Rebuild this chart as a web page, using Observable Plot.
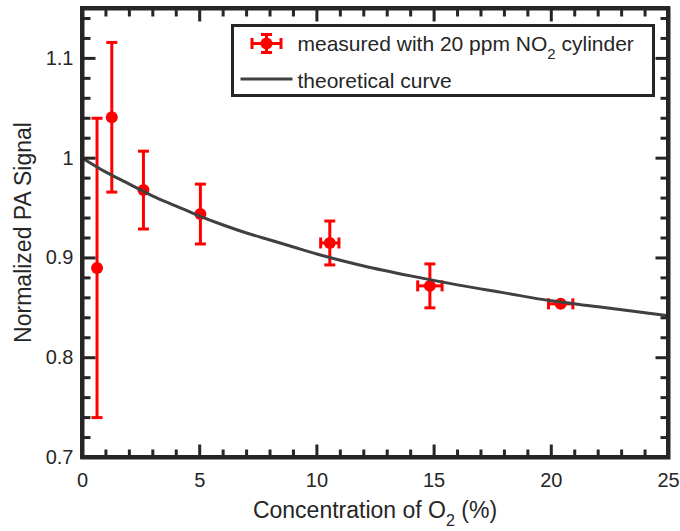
<!DOCTYPE html>
<html><head><meta charset="utf-8">
<script src="https://cdn.jsdelivr.net/npm/d3@7"></script>
<script src="https://cdn.jsdelivr.net/npm/@observablehq/plot@0.6"></script>
<style>
body{margin:0;background:#fff;overflow:hidden}
#wrap{position:relative;width:680px;height:531px}
#legend{position:absolute;left:231px;top:24px;width:424px;height:73px;box-sizing:border-box;border:3.5px solid #262626;background:#fff;
  font-family:'Liberation Sans',Arial,Helvetica,sans-serif;font-size:21px;line-height:1;color:#262626}
#legend .row{position:absolute;left:63.5px;white-space:nowrap}
#legend .sub{font-size:15px;position:relative;top:8px}
#legend svg{position:absolute;left:0;top:0}
</style>
</head><body><div id="wrap"><div id="chart"></div>
<div id="legend">
  <svg width="417" height="66"></svg>
  <div class="row" style="top:5.7px">measured with 20 ppm NO<span class="sub">2</span> cylinder</div>
  <div class="row" style="top:42.7px">theoretical curve</div>
</div></div>
<script>
// measured points
const o2Conc   = [0.62, 1.25, 2.6, 5.03, 10.55, 14.82, 20.4];
const paSignal = [0.890, 1.041, 0.968, 0.944, 0.915, 0.872, 0.854];
const yError   = [0.150, 0.075, 0.039, 0.030, 0.022, 0.022, 0.0];
const xError   = [0, 0, 0, 0, 0.39, 0.52, 0.52];
// theoretical curve
const curveX = [0, 1, 2, 3, 4, 5, 6, 7, 8, 9, 10, 12, 14, 16, 18, 20, 22, 25];
const curveY = [1.000, 0.986, 0.974, 0.962, 0.952, 0.942, 0.933, 0.925, 0.918, 0.911, 0.904, 0.892, 0.882, 0.873, 0.865, 0.857, 0.851, 0.842];
// ticks
const xMajor = [0, 5, 10, 15, 20, 25];
const yMajor = [0.7, 0.8, 0.9, 1.0, 1.1];
const yTickLabels = ["0.7", "0.8", "0.9", "1", "1.1"];
const xMinor = d3.range(0, 26, 1).filter(v => v % 5 !== 0);
const yMinor = d3.range(36, 58, 1).filter(v => v % 5 !== 0).map(v => +(v * 0.02).toFixed(2));

const W = 680, H = 531, mL = 82, mR = 12, mT = 8, mB = 74;
const RED = "#ff0000", DARK = "#262626", CURVE = "#404040";
const FONT = "'Liberation Sans', Arial, Helvetica, sans-serif";
const X0 = 0, X1 = 25, Y0 = 0.7, Y1 = 1.15;

const pts = o2Conc.map((x, i) => ({x, y: paSignal[i], ey: yError[i], ex: xError[i]}));
const curve = curveX.map((x, i) => ({x, y: curveY[i]}));
const yCaps = pts.filter(d => d.ey > 0).flatMap(d => [{x: d.x, y: d.y - d.ey}, {x: d.x, y: d.y + d.ey}]);
const xCaps = pts.filter(d => d.ex > 0).flatMap(d => [{x: d.x - d.ex, y: d.y}, {x: d.x + d.ex, y: d.y}]);

const seg = (x1, y1, x2, y2) => ({draw(ctx) { ctx.moveTo(x1, y1); ctx.lineTo(x2, y2); }});
const box = (x, y, w, h) => ({draw(ctx) { ctx.rect(x, y, w, h); }});
const hCap = seg(-5.5, 0, 5.5, 0);
const vCap = seg(0, -5.5, 0, 5.5);
const MIN = 8, MAJ = 13, TW = 3;
const tk = {fill: DARK, stroke: "none", r: 5};

const svg = Plot.plot({
  width: W, height: H,
  marginLeft: mL, marginRight: mR, marginTop: mT, marginBottom: mB,
  x: {domain: [X0, X1]},
  y: {domain: [Y0, Y1]},
  style: {fontFamily: FONT, fontSize: "20px", color: DARK, background: "#fff"},
  marks: [
    Plot.axisX(xMajor, {tickSize: 0, tickPadding: 15, label: null, fontSize: 20, fill: DARK}),
    Plot.axisY(yMajor, {tickSize: 0, tickPadding: 9, label: null, fontSize: 20, fill: DARK,
      tickFormat: d => yTickLabels[yMajor.indexOf(d)]}),
    // error bars
    Plot.ruleX(pts.filter(d => d.ey > 0), {x: "x", y1: d => d.y - d.ey, y2: d => d.y + d.ey, stroke: RED, strokeWidth: 3}),
    Plot.ruleY(pts.filter(d => d.ex > 0), {y: "y", x1: d => d.x - d.ex, x2: d => d.x + d.ex, stroke: RED, strokeWidth: 3}),
    Plot.dot(yCaps, {x: "x", y: "y", symbol: hCap, r: 5, fill: "none", stroke: RED, strokeWidth: 3}),
    Plot.dot(xCaps, {x: "x", y: "y", symbol: vCap, r: 5, fill: "none", stroke: RED, strokeWidth: 3}),
    Plot.dot(pts, {x: "x", y: "y", r: 6, fill: RED, stroke: "none"}),
    // theoretical curve
    Plot.line(curve, {x: "x", y: "y", curve: "monotone-x", stroke: CURVE, strokeWidth: 3}),
    // inward ticks on all four sides, as filled bars
    Plot.dot(xMinor, {x: d => d, y: () => Y0, symbol: box(-TW / 2, -MIN, TW, MIN), ...tk}),
    Plot.dot(xMajor, {x: d => d, y: () => Y0, symbol: box(-TW / 2, -MAJ, TW, MAJ), ...tk}),
    Plot.dot(xMinor, {x: d => d, y: () => Y1, symbol: box(-TW / 2, 0, TW, MIN), ...tk}),
    Plot.dot(xMajor, {x: d => d, y: () => Y1, symbol: box(-TW / 2, 0, TW, MAJ), ...tk}),
    Plot.dot(yMinor, {y: d => d, x: () => X0, symbol: box(0, -TW / 2, MIN, TW), ...tk}),
    Plot.dot(yMajor, {y: d => d, x: () => X0, symbol: box(0, -TW / 2, MAJ, TW), ...tk}),
    Plot.dot(yMinor, {y: d => d, x: () => X1, symbol: box(-MIN, -TW / 2, MIN, TW), ...tk}),
    Plot.dot(yMajor, {y: d => d, x: () => X1, symbol: box(-MAJ, -TW / 2, MAJ, TW), ...tk}),
    Plot.frame({stroke: DARK, strokeWidth: 4})
  ]
});
document.getElementById("chart").append(svg);

const s = d3.select(svg);
const xs = svg.scale("x").apply, ys = svg.scale("y").apply;
const L = xs(X0), R = xs(X1), B = ys(Y0), T = ys(Y1);
// frame edges as filled bars on top
const fr = s.append("g").attr("fill", DARK).attr("stroke", "none");
fr.append("rect").attr("x", L - 2).attr("y", T - 2).attr("width", R - L + 4).attr("height", 4);
fr.append("rect").attr("x", L - 2).attr("y", B - 2).attr("width", R - L + 4).attr("height", 4);
fr.append("rect").attr("x", L - 2).attr("y", T - 2).attr("width", 4).attr("height", B - T + 4);
fr.append("rect").attr("x", R - 2).attr("y", T - 2).attr("width", 4).attr("height", B - T + 4);

// x label with subscript
const xl = s.append("text").attr("x", (L + R) / 2).attr("y", 518).attr("text-anchor", "middle")
  .attr("font-family", FONT).attr("font-size", 23).attr("fill", DARK);
xl.append("tspan").text("Concentration of O");
xl.append("tspan").attr("font-size", 16).attr("dy", 8).text("2");
xl.append("tspan").attr("dy", -8).text(" (%)");
// y label
s.append("text").attr("transform", `translate(31,${(T + B) / 2}) rotate(-90)`).attr("text-anchor", "middle")
  .attr("font-family", FONT).attr("font-size", 23).attr("fill", DARK).text("Normalized PA Signal");

// legend markers (HTML box above the svg)
const lsv = d3.select("#legend svg");
const mx = 32.5, my = 16.5;
const ln = (x1, y1, x2, y2, c) => lsv.append("line").attr("x1", x1).attr("y1", y1).attr("x2", x2).attr("y2", y2).attr("stroke", c).attr("stroke-width", 3);
ln(mx, my - 9, mx, my + 9, RED);
ln(mx - 14.5, my, mx + 14.5, my, RED);
ln(mx - 5.5, my - 9, mx + 5.5, my - 9, RED);
ln(mx - 5.5, my + 9, mx + 5.5, my + 9, RED);
ln(mx - 14.5, my - 5.5, mx - 14.5, my + 5.5, RED);
ln(mx + 14.5, my - 5.5, mx + 14.5, my + 5.5, RED);
lsv.append("circle").attr("cx", mx).attr("cy", my).attr("r", 6).attr("fill", RED);
ln(6.5, 52, 58.5, 52, CURVE);
</script>
</body></html>
